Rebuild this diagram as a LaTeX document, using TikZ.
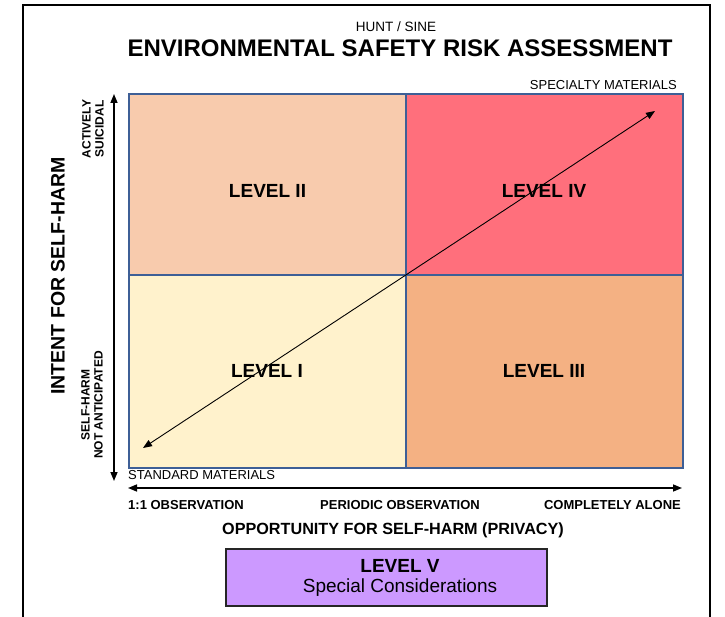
\documentclass[tikz,border=0pt]{standalone}
\usepackage{fontspec}
\setmainfont{Liberation Sans}
\usetikzlibrary{arrows.meta}
\definecolor{gridblue}{HTML}{3E5F96}
\definecolor{lvlone}{HTML}{FFF2CC}
\definecolor{lvltwo}{HTML}{F8CBAD}
\definecolor{lvlthree}{HTML}{F4B183}
\definecolor{lvlfour}{HTML}{FF6F7C}
\definecolor{lvlfive}{HTML}{CC99FF}
\tikzset{
  cell/.style={draw=gridblue, line width=1.8pt, anchor=north west, inner sep=0pt},
  lvl/.style={font=\bfseries\fontsize{19}{21}\selectfont, inner sep=0pt},
  axis/.style={line width=1.5pt, {Triangle[length=9pt,width=7pt]}-{Triangle[length=9pt,width=7pt]}},
  small/.style={font=\fontsize{13}{15}\selectfont, inner sep=0pt},
  smallb/.style={font=\bfseries\fontsize{13}{15}\selectfont, inner sep=0pt},
  sidelab/.style={font=\bfseries\fontsize{12}{13}\selectfont, inner sep=0pt, rotate=90, align=center},
}
\begin{document}
\begin{tikzpicture}[x=1pt,y=-1pt]
\useasboundingbox (0,0) rectangle (725,617);
\fill[white] (0,0) rectangle (725,617);
% outer frame
\draw[line width=2pt] (23,625) -- (23,5) -- (710,5) -- (710,625);
% titles
\node[small, font=\fontsize{13.5}{15}\selectfont] (hunt) at (396,27) {HUNT / SINE};
\node[font=\bfseries\fontsize{24}{28}\selectfont, inner sep=0pt] (title) at (400,48) {ENVIRONMENTAL SAFETY RISK ASSESSMENT};
\node[small, anchor=east] (spec) at (677,85) {SPECIALTY MATERIALS};
% cells
\node[cell, fill=lvltwo, minimum width=277pt, minimum height=181pt] (c2) at (128,93) {};
\node[cell, fill=lvlfour, minimum width=277pt, minimum height=181pt] (c4) at (405,93) {};
\node[cell, fill=lvlone, minimum width=277pt, minimum height=193pt] (c1) at (128,274) {};
\node[cell, fill=lvlthree, minimum width=277pt, minimum height=193pt] (c3) at (405,274) {};
\node[lvl] (t2) at (267.5,191) {LEVEL II};
\node[lvl] (t4) at (544,191) {LEVEL IV};
\node[lvl] (t1) at (267,371) {LEVEL I};
\node[lvl] (t3) at (544,371) {LEVEL III};
% diagonal arrow
\coordinate (dlo) at (143,448);
\coordinate (dhi) at (655,111);
\draw[line width=0.9pt, {Triangle[length=9pt,width=7pt]}-{Triangle[length=9pt,width=7pt]}] (dlo) -- (dhi);
\node[small, anchor=west] (std) at (128,475) {STANDARD MATERIALS};
% axes
\coordinate (vtop) at (114,94);
\coordinate (vbot) at (114,481);
\draw[axis] (vbot) -- (vtop);
\coordinate (hl) at (128,488);
\coordinate (hr) at (682,488);
\draw[axis] (hl) -- (hr);
% vertical labels
\node[sidelab] (act) at (93,129) {ACTIVELY\\SUICIDAL};
\node[sidelab] (shna) at (92,405) {SELF-HARM\\NOT ANTICIPATED};
\node[font=\bfseries\fontsize{19.5}{22}\selectfont, rotate=90, inner sep=0pt] (intent) at (58,276) {INTENT FOR SELF-HARM};
% bottom labels
\node[smallb, anchor=west] (obs1) at (128,505) {1:1 OBSERVATION};
\node[smallb] (obsp) at (400,505) {PERIODIC OBSERVATION};
\node[smallb, anchor=east] (alone) at (681,505) {COMPLETELY ALONE};
\node[font=\bfseries\fontsize{16.2}{18}\selectfont, inner sep=0pt] (opp) at (393,530) {OPPORTUNITY FOR SELF-HARM (PRIVACY)};
% level V
\node[draw=black!85, line width=1.5pt, fill=lvlfive, minimum width=321pt, minimum height=57pt, anchor=north west, inner sep=0pt] (l5) at (225,548) {};
\node[font=\bfseries\fontsize{19}{21}\selectfont, inner sep=0pt] (l5a) at (400,566) {LEVEL V};
\node[font=\fontsize{19}{21}\selectfont, inner sep=0pt] (l5b) at (400,588) {Special Considerations};
\end{tikzpicture}
\end{document}
